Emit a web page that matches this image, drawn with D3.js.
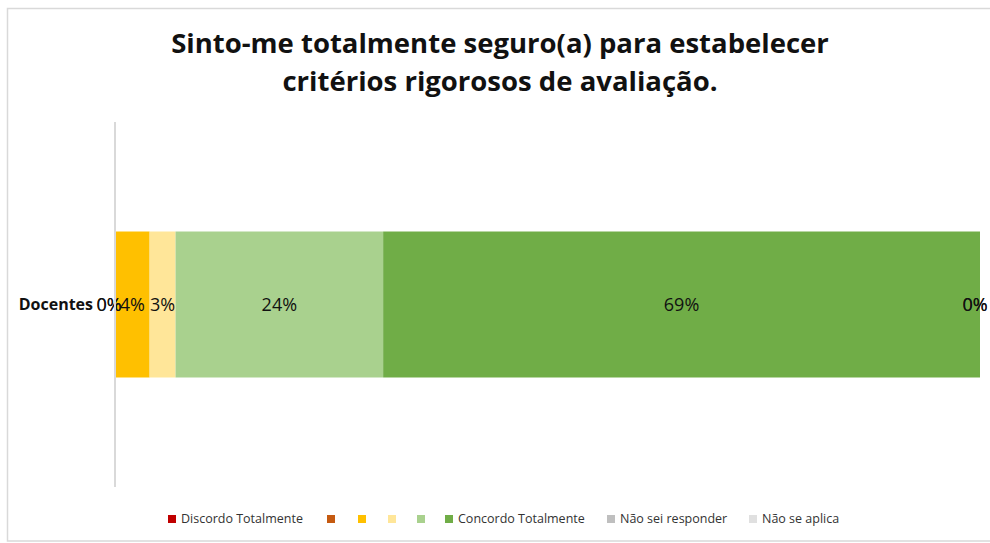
<!DOCTYPE html>
<html>
<head>
<meta charset="utf-8">
<script src="https://cdn.jsdelivr.net/npm/d3@7"></script>
<style>
  body { margin: 0; background: #fff; }
  svg { font-family: "Open Sans", Lato, sans-serif; }
</style>
</head>
<body>
<svg id="chart" width="990" height="543"></svg>
<script>
// data
const categories = ["Discordo Totalmente", "", " ", "  ", "   ", "Concordo Totalmente", "Não sei responder", "Não se aplica"];
const colors = ["#C00000", "#C55A11", "#FFC000", "#FFE699", "#A9D18E", "#70AD47", "#BFBFBF", "#E0E0E0"];
const values = [0, 0, 4, 3, 24, 69, 0, 0];
const groups = ["Docentes"];
const titleLines = ["Sinto-me totalmente seguro(a) para estabelecer", "critérios rigorosos de avaliação."];

const svg = d3.select("#chart");

// outer frame
svg.append("rect")
  .attr("x", 7.5).attr("y", 8.5).attr("width", 990).attr("height", 532.5)
  .attr("fill", "none").attr("stroke", "#d9d9d9").attr("stroke-width", 1.5);

// title
svg.append("text")
  .attr("text-anchor", "middle")
  .attr("font-weight", "bold")
  .attr("font-size", 27.5)
  .attr("fill", "#111")
  .selectAll("tspan")
  .data(titleLines)
  .join("tspan")
  .attr("x", 500)
  .attr("y", (d, i) => 53 + i * 38)
  .text(d => d);

const x = d3.scaleLinear().domain([0, d3.sum(values)]).range([115, 980]);
const y = d3.scaleBand().domain(groups).range([122, 487]).padding(0.4286);

// stacked offsets
let acc = 0;
const segs = values.map((v, i) => {
  const s = { v, start: acc, end: acc + v, color: colors[i] };
  acc += v;
  return s;
});

const g = svg.append("g");

g.selectAll("rect.seg")
  .data(segs)
  .join("rect")
  .attr("class", "seg")
  .attr("x", d => x(d.start))
  .attr("y", y("Docentes"))
  .attr("width", d => x(d.end) - x(d.start))
  .attr("height", y.bandwidth())
  .attr("fill", d => d.color);

// value labels
const cy = y("Docentes") + y.bandwidth() / 2;
g.selectAll("text.lbl")
  .data(segs)
  .join("text")
  .attr("class", "lbl")
  .attr("x", (d, i) => {
    const c = (x(d.start) + x(d.end)) / 2;
    if (d.v === 0) return c + (i < 3 ? -6 : -5);
    return c;
  })
  .attr("y", cy)
  .attr("dy", "0.35em")
  .attr("text-anchor", "middle")
  .attr("font-size", 18)
  .attr("fill", "#111")
  .text(d => d.v + "%");

// y axis
const yAxis = g.append("g")
  .attr("transform", "translate(115,0)")
  .call(d3.axisLeft(y).tickSize(0).tickPadding(22));
yAxis.select(".domain").attr("stroke", "#d9d9d9").attr("stroke-width", 2)
  .attr("d", "M0,122V487");
yAxis.selectAll("text")
  .attr("font-family", "'Open Sans', sans-serif")
  .attr("font-size", 16)
  .attr("font-weight", "bold")
  .attr("fill", "#111");

// legend
const legendX = [168, 327, 358, 388, 417, 445, 607, 749];
const legend = svg.append("g");
const item = legend.selectAll("g")
  .data(categories)
  .join("g")
  .attr("transform", (d, i) => `translate(${legendX[i]},519)`);
item.append("rect")
  .attr("x", 0).attr("y", -4).attr("width", 8).attr("height", 8)
  .attr("fill", (d, i) => colors[i]);
item.append("text")
  .attr("x", 13).attr("dy", "0.35em")
  .attr("font-size", 12.5)
  .attr("fill", "#333")
  .text(d => d.trim());
</script>
</body>
</html>
